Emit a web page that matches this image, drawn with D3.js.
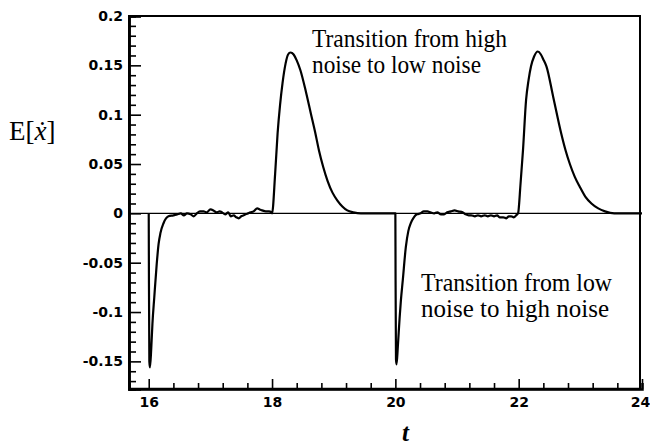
<!DOCTYPE html>
<html>
<head>
<meta charset="utf-8">
<script src="https://cdn.jsdelivr.net/npm/d3@7"></script>
<style>
  body { margin: 0; background: #fff; }
  svg { display: block; }
  .tick text { font-family: "DejaVu Sans", sans-serif; font-weight: bold; font-size: 14px; fill: #000; }
  .note { font-family: "Liberation Serif", "Times New Roman", serif; font-size: 25px; fill: #000; }
</style>
</head>
<body>
<div id="chart"></div>
<script>
// E[xdot] vs t: [t, value]
var spike1 = [[16.0,0],[16.003,-0.06],[16.01,-0.15],[16.02,-0.156],[16.04,-0.138],[16.06,-0.112],
  [16.09,-0.085],[16.13,-0.051],[16.16,-0.031],[16.19,-0.02],[16.24,-0.01],[16.32,-0.003]];
var flat1 = [[16.4,-0.002],[16.46,-0.001],[16.52,0.0],[16.57,-0.002],[16.62,0.0],[16.68,-0.001],
  [16.73,-0.003],[16.78,0.0],[16.83,0.002],[16.89,0.002],[16.94,0.001],[17.0,0.004],[17.05,0.003],
  [17.1,0.001],[17.15,0.002],[17.19,0.001],[17.24,-0.001],[17.29,0.001],[17.33,-0.003],[17.38,-0.002],
  [17.42,-0.004],[17.46,-0.005],[17.5,-0.003],[17.54,-0.002],[17.57,-0.001],[17.61,0.0],[17.65,0.001],
  [17.7,0.002],[17.76,0.005],[17.8,0.004],[17.84,0.003],[17.9,0.002],[17.95,0.002],[17.99,0.001]];
var peak1 = [[18.0,0],[18.05,0.04],[18.09,0.081],[18.13,0.11],[18.17,0.132],[18.22,0.152],[18.26,0.161],
  [18.3,0.163],[18.35,0.161],[18.4,0.155],[18.46,0.145],[18.55,0.123],[18.63,0.101],[18.7,0.082],
  [18.76,0.064],[18.83,0.047],[18.9,0.033],[18.98,0.021],[19.06,0.013],[19.14,0.007],[19.22,0.003],
  [19.32,0.001],[19.44,0.0],[19.99,0.0]];
var spike2 = [[20.0,0],[20.003,-0.06],[20.01,-0.148],[20.02,-0.153],[20.04,-0.135],[20.07,-0.105],
  [20.09,-0.088],[20.12,-0.068],[20.17,-0.034],[20.21,-0.018],[20.25,-0.01],[20.3,-0.004]];
var flat2 = [[20.35,-0.001],[20.41,0.0],[20.46,0.002],[20.52,0.002],[20.57,0.001],[20.63,0.0],
  [20.68,0.001],[20.74,-0.001],[20.79,-0.001],[20.84,0.001],[20.9,0.002],[20.96,0.003],[21.02,0.002],
  [21.09,0.001],[21.14,-0.001],[21.19,-0.002],[21.23,-0.002],[21.29,-0.003],[21.34,-0.002],
  [21.39,-0.003],[21.45,-0.002],[21.5,-0.003],[21.55,-0.002],[21.6,-0.003],[21.65,-0.002],
  [21.69,-0.004],[21.75,-0.004],[21.8,-0.005],[21.84,-0.003],[21.88,-0.003],[21.92,-0.004],[21.96,-0.002]];
var peak2 = [[21.99,0],[22.03,0.03],[22.07,0.064],[22.12,0.115],[22.16,0.135],[22.2,0.149],[22.25,0.159],
  [22.31,0.164],[22.36,0.161],[22.4,0.156],[22.45,0.149],[22.56,0.118],[22.69,0.081],[22.76,0.064],
  [22.83,0.05],[22.91,0.037],[22.99,0.027],[23.08,0.017],[23.18,0.01],[23.29,0.005],[23.4,0.002],
  [23.55,0.0],[24.0,0.0]];

var xMajor = [16, 18, 20, 22, 24];
var yMajor = [-0.15, -0.1, -0.05, 0, 0.05, 0.1, 0.15, 0.2];
var yLabels = ["-0.15", "-0.1", "-0.05", "0", "0.05", "0.1", "0.15", "0.2"];
var upperNote = ["Transition from high", "noise to low noise"];
var lowerNote = ["Transition from low", "noise to high noise"];

var W = 650, H = 448;
var svg = d3.select("#chart").append("svg").attr("width", W).attr("height", H);

var x = d3.scaleLinear().domain([15.68, 24]).range([129, 642]);
var y = d3.scaleLinear().domain([-0.178, 0.2]).range([389, 16]);

var xMinor = d3.range(16, 24.01, 0.4).filter(function(v){ return Math.abs(v - Math.round(v/2)*2) > 1e-6; });
var yMinor = d3.range(-0.17, 0.2001, 0.01).filter(function(v){ return Math.abs(v*20 - Math.round(v*20)) > 1e-6; });

// frame
svg.append("rect")
  .attr("x", x.range()[0]).attr("y", y.range()[1])
  .attr("width", 640 - x.range()[0]).attr("height", y.range()[0] - y.range()[1])
  .attr("fill", "none").attr("stroke", "#000").attr("stroke-width", 2);

// zero line
svg.append("line")
  .attr("x1", x.range()[0]).attr("x2", 640)
  .attr("y1", y(0)).attr("y2", y(0))
  .attr("stroke", "#000").attr("stroke-width", 1.3);

// y axis
var gy = svg.append("g").attr("transform", "translate(" + x.range()[0] + ",0)");
gy.call(d3.axisLeft(y).tickValues(yMajor).tickSize(-12).tickPadding(6)
  .tickFormat(function(d, i){ return yLabels[i]; }));
gy.append("g").call(d3.axisLeft(y).tickValues(yMinor).tickSize(-7).tickFormat(""));
gy.selectAll(".domain").attr("stroke-width", 2.5);
gy.selectAll(".tick line").attr("stroke-width", 1.6);

// x axis
var gx = svg.append("g").attr("transform", "translate(0," + y.range()[0] + ")");
gx.call(d3.axisBottom(x).tickValues(xMajor).tickSize(-10).tickPadding(8).tickFormat(d3.format("d")));
gx.append("g").call(d3.axisBottom(x).tickValues(xMinor).tickSize(-6).tickFormat(""));
gx.selectAll(".domain").attr("stroke-width", 2.5);
gx.selectAll(".tick line").attr("stroke-width", 1.6);
gx.select(".domain").attr("d", "M" + x.range()[0] + ",0H640");
// last label sits at the window edge; nudge it in
gx.selectAll(".tick text").filter(function(d){ return d === 24; }).attr("dx", -2);

// curve
var data = [].concat(spike1, flat1, peak1, spike2, flat2, peak2);
var line = d3.line()
  .x(function(d){ return x(d[0]); })
  .y(function(d){ return y(d[1]); })
  .curve(d3.curveMonotoneX);
svg.append("path").datum(data)
  .attr("d", line)
  .attr("fill", "none").attr("stroke", "#000").attr("stroke-width", 2.2)
  .attr("stroke-linejoin", "round");

// notes
function note(lines, x0, y0, lens){
  lines.forEach(function(s, i){
    svg.append("text").attr("class", "note")
      .attr("x", x0).attr("y", y0 + i*26)
      .attr("textLength", lens[i]).attr("lengthAdjust", "spacingAndGlyphs")
      .text(s);
  });
}
note(upperNote, 312, 47, [195, 169]);
note(lowerNote, 421, 291, [191, 188]);

// axis titles
var yt = svg.append("text")
  .attr("x", 9).attr("y", 140)
  .attr("font-family", "Liberation Serif, serif").attr("font-size", 27);
yt.append("tspan").text("E[");
yt.append("tspan").attr("font-style", "italic").text("\u1E8B");
yt.append("tspan").text("]");

svg.append("text")
  .attr("x", 402).attr("y", 441)
  .attr("font-family", "Liberation Serif, serif").attr("font-size", 25)
  .attr("font-style", "italic").attr("font-weight", "bold")
  .text("t");
</script>
</body>
</html>
